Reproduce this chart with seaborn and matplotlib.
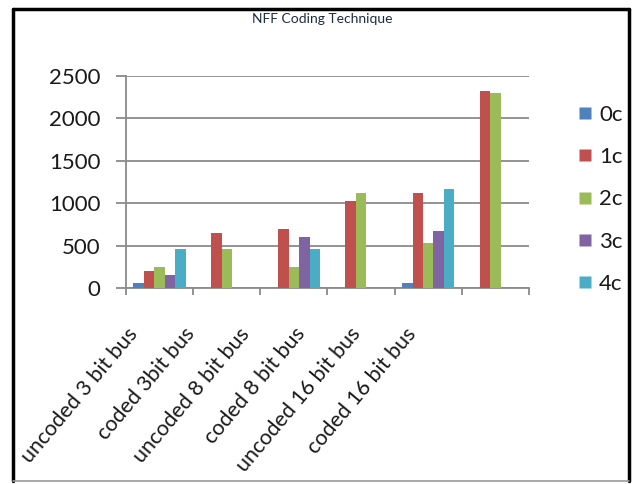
import numpy as np
import pandas as pd
import matplotlib
matplotlib.use("Agg")
import matplotlib.pyplot as plt
import seaborn as sns
from matplotlib.lines import Line2D

# Bus configurations and their transition counts per coupling class
categories = ["uncoded 3 bit bus", "coded 3bit bus", "uncoded 8 bit bus",
              "coded 8 bit bus", "uncoded 16 bit bus", "coded 16 bit bus"]
series = ["0c", "1c", "2c", "3c", "4c"]
vals_0c = [55, np.nan, np.nan, np.nan, 55, np.nan]
vals_1c = [197, 645, 692, 1022, 1116, 2323]
vals_2c = [244, 456, 244, 1116, 527, 2300]
vals_3c = [149, np.nan, 597, np.nan, 668, np.nan]
vals_4c = [456, np.nan, 456, np.nan, 1164, np.nan]
yticks = [0, 500, 1000, 1500, 2000, 2500]
colors = ["#4F81BD", "#C0504D", "#9BBB59", "#8064A2", "#4BACC6"]

rows = []
for s, v in zip(series, [vals_0c, vals_1c, vals_2c, vals_3c, vals_4c]):
    for c, y in zip(categories, v):
        rows.append({"bus": c, "class": s, "count": y})
df = pd.DataFrame(rows)

sns.set_theme(style="white")
plt.rcParams["font.family"] = ["Lato", "DejaVu Sans"]

W, H = 632, 484
fig = plt.figure(figsize=(W / 100, H / 100), dpi=100)
ax = fig.add_axes([126 / W, 1 - 288 / H, (529 - 126) / W, (288 - 76) / H])

sns.barplot(data=df, x="bus", y="count", hue="class", order=categories,
            hue_order=series, palette=colors, width=0.78, gap=0,
            edgecolor="none", linewidth=0, saturation=1, ax=ax, legend=False,
            errorbar=None, zorder=3)

grid_c = "#8a8a8a"
ax.set_ylim(0, 2500)
ax.set_xlim(-0.5, len(categories) - 0.5)
ax.set_yticks(yticks)
ax.set_yticklabels([str(t) for t in yticks])
ax.yaxis.grid(True, color=grid_c, linewidth=1.3, zorder=0)
ax.set_axisbelow(True)
for sp in ["top", "right"]:
    ax.spines[sp].set_visible(False)
for sp in ["left", "bottom"]:
    ax.spines[sp].set_color(grid_c)
    ax.spines[sp].set_linewidth(1.3)
ax.tick_params(axis="y", direction="out", length=7.5, width=1.3, color=grid_c,
               pad=11, labelsize=16, labelcolor="#1a1a1a", left=True)

# Category boundaries get tick marks; labels sit on their own positions
ax.set_xticks(np.arange(-0.5, len(categories), 1.0), minor=True)
label_pos = [-0.49, 0.36, 1.18, 2.00, 2.82, 3.65]
ax.set_xticks(label_pos)
ax.set_xticklabels(categories, rotation=50, ha="right", rotation_mode="anchor",
                   fontsize=15.5, color="#1a1a1a")
ax.tick_params(axis="x", which="major", length=0, pad=26)
ax.tick_params(axis="x", which="minor", direction="out", length=5, width=1.3,
               color=grid_c, bottom=True)
ax.set_xlabel("")
ax.set_ylabel("")

handles = [Line2D([0], [0], marker="s", linestyle="none", markersize=8,
                  markerfacecolor=c, markeredgecolor="none") for c in colors]
fig.legend(handles, series, loc="upper left", bbox_to_anchor=(577 / W, 1 - 105 / H),
           frameon=False, fontsize=16, labelspacing=1.0, handlelength=0.7,
           handletextpad=0.3, borderpad=0, borderaxespad=0, labelcolor="#1a1a1a")

fig.text(322 / W, 1 - 19 / H, "NFF Coding Technique", ha="center", va="center",
         fontsize=10, color="#1f2a44")

# Outer chart frame
fig.add_artist(Line2D([13 / W, 13 / W], [1 - 9 / H, 1 - 481 / H], color="black", lw=2.5))
fig.add_artist(Line2D([13 / W, 629 / W], [1 - 9 / H, 1 - 9 / H], color="black", lw=2.5))
fig.add_artist(Line2D([629 / W, 629 / W], [1 - 9 / H, 1 - 481 / H], color="black", lw=2.5))
fig.add_artist(Line2D([13 / W, 629 / W], [1 - 481 / H, 1 - 481 / H], color="#9a9a9a", lw=1.2))

fig.savefig("out.png", dpi=100, facecolor="white")
